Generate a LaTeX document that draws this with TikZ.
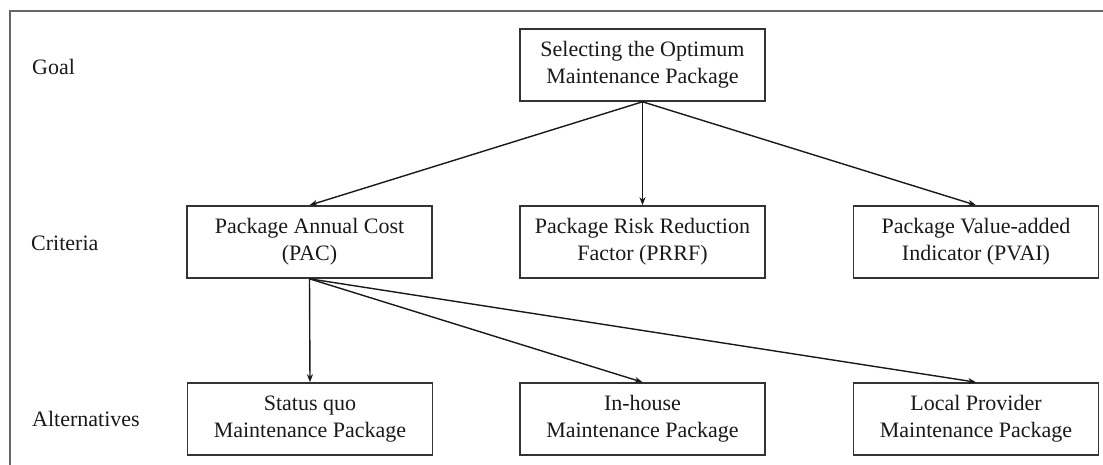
\documentclass[tikz,border=0pt]{standalone}
\usepackage{fontspec}
\setmainfont{Liberation Serif}
\usetikzlibrary{arrows.meta}
\begin{document}
\begin{tikzpicture}[x=1pt,y=-1pt,
  box/.style={draw=black!80, line width=1.6pt, minimum width=245pt, minimum height=72pt,
    align=center, inner sep=0pt, text=black!90, font=\fontsize{22}{27}\selectfont},
  lvl/.style={anchor=west, inner sep=0pt, text=black!90, font=\fontsize{22}{27}\selectfont},
  link/.style={draw=black!90, line width=1.4pt, -{Stealth[length=8pt,width=6pt]}},
  frameline/.style={draw=black!60, line width=1.6pt}
]
\useasboundingbox (0,0) rectangle (1103,465);

% partial frame (left and top edges)
\coordinate (fbl) at (10,466);
\coordinate (ftl) at (10,11);
\coordinate (ftr) at (1104,11);
\draw[frameline] (fbl) -- (ftl) -- (ftr);

% level labels
\node[lvl] (lgoal) at (32,67) {Goal};
\node[lvl] (lcrit) at (31,243) {Criteria};
\node[lvl] (lalt)  at (32,419) {Alternatives};

% goal
\node[box] (goal) at (642.5,65) {Selecting the Optimum\\Maintenance Package};

% criteria
\node[box] (pac)  at (309.5,242) {Package Annual Cost\\(PAC)};
\node[box] (prrf) at (642.5,242) {Package Risk Reduction\\Factor (PRRF)};
\node[box] (pvai) at (976,242)   {Package Value-added\\Indicator (PVAI)};

% alternatives
\node[box] (sq) at (310,419)   {Status quo\\Maintenance Package};
\node[box] (ih) at (642.5,419) {In-house\\Maintenance Package};
\node[box] (lp) at (976,419)   {Local Provider\\Maintenance Package};

% connectors
\draw[link] (goal.south) -- (pac.north);
\draw[link] (goal.south) -- (prrf.north);
\draw[link] (goal.south) -- (pvai.north);
\draw[link] (pac.south) -- (sq.north);
\draw[link] (pac.south) -- (ih.north);
\draw[link] (pac.south) -- (lp.north);
\end{tikzpicture}
\end{document}
